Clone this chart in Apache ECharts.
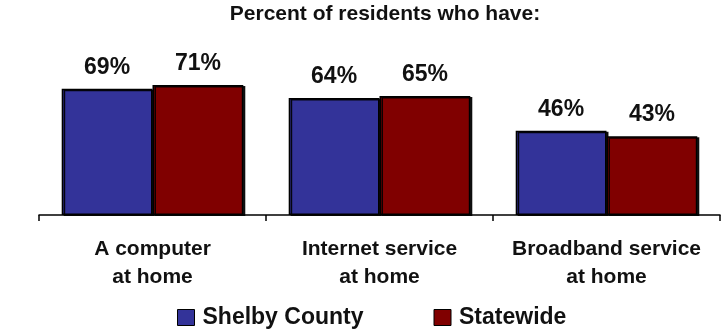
<!DOCTYPE html>
<html>
<head>
<meta charset="utf-8">
<script src="https://cdn.jsdelivr.net/npm/echarts@6/dist/echarts.min.js"></script>
<style>
  html, body { margin: 0; padding: 0; background: #fff; }
  #chart { width: 725px; height: 336px; }
</style>
</head>
<body>
<div id="chart"></div>
<script>
// Share of residents with each technology at home
const categories = ['A computer\nat home', 'Internet service\nat home', 'Broadband service\nat home'];
const shelbyCounty = [69, 64, 46];
const statewide = [71, 65, 43];
const seriesNames = ['Shelby County', 'Statewide'];

const FONT = '"Liberation Sans", Arial, sans-serif';

const barStyle = color => ({
  color: color,
  borderColor: '#000',
  borderWidth: 1.5,
  shadowColor: 'rgba(0,0,0,0.9)',
  shadowOffsetX: 2,
  shadowOffsetY: 1,
  shadowBlur: 0
});

const valueLabel = {
  show: true,
  position: 'top',
  distance: 10,
  formatter: '{c}%',
  fontFamily: FONT,
  fontWeight: 'bold',
  fontSize: 23,
  color: '#111'
};

const chart = echarts.init(document.getElementById('chart'));
chart.setOption({
  animation: false,
  title: {
    text: 'Percent of residents who have:',
    left: 385,
    textAlign: 'center',
    top: 4,
    padding: 0,
    textStyle: { fontFamily: FONT, fontWeight: 'bold', fontSize: 21, color: '#111' }
  },
  legend: {
    data: seriesNames,
    top: 306,
    left: 177,
    padding: 0,
    icon: 'rect',
    itemWidth: 17,
    itemHeight: 16,
    itemGap: 70,
    textStyle: { fontFamily: FONT, fontWeight: 'bold', fontSize: 23, color: '#111', padding: [0, 0, 0, 3] },
    itemStyle: { borderColor: '#000', borderWidth: 1 }
  },
  grid: { left: 39, right: 5, top: 32, bottom: 121, containLabel: false },
  xAxis: {
    type: 'category',
    data: categories,
    axisLine: { lineStyle: { color: '#000', width: 1.5 } },
    axisTick: { show: true, interval: 0, length: 6, lineStyle: { color: '#000', width: 1.5 } },
    axisLabel: {
      interval: 0,
      hideOverlap: false,
      margin: 20,
      fontFamily: FONT,
      fontWeight: 'bold',
      fontSize: 21,
      lineHeight: 28,
      color: '#111'
    }
  },
  yAxis: {
    type: 'value',
    min: 0,
    max: 100,
    show: false,
    splitLine: { show: false }
  },
  series: [
    {
      name: seriesNames[0],
      type: 'bar',
      data: shelbyCounty,
      barWidth: '40%',
      barGap: '0%',
      itemStyle: barStyle('#333399'),
      label: valueLabel
    },
    {
      name: seriesNames[1],
      type: 'bar',
      data: statewide,
      barWidth: '40%',
      barGap: '0%',
      itemStyle: barStyle('#800000'),
      label: valueLabel
    }
  ]
});
</script>
</body>
</html>
